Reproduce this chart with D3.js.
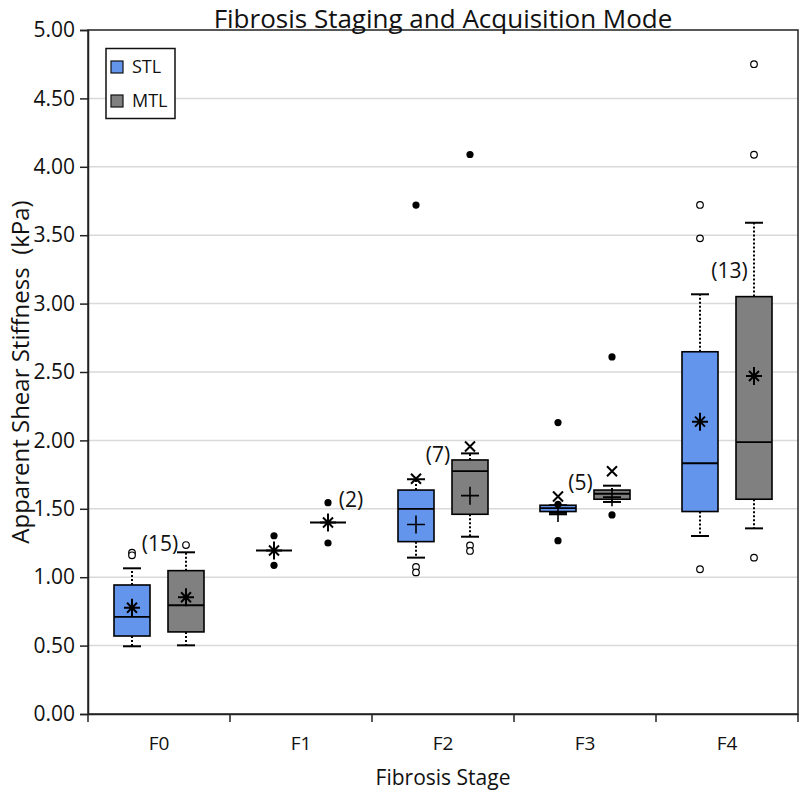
<!DOCTYPE html>
<html><head><meta charset="utf-8">
<script src="https://cdn.jsdelivr.net/npm/d3@7"></script>
<style>body{margin:0;background:#fff}svg{display:block}text{font-family:"Open Sans",sans-serif;fill:#111}</style>
</head><body>
<svg id="c" width="800" height="791"></svg>
<script>
// ---- data ----
const stages = ["F0","F1","F2","F3","F4"];
const modes = ["STL","MTL"];
const colors = ["#6495ED","#808080"];
const yTicks = [0,0.5,1,1.5,2,2.5,3,3.5,4,4.5,5];
// values indexed [stage][mode]
const q1     = [[0.57,0.60],[null,null],[1.26,1.46],[1.48,1.57],[1.48,1.57]];
const median = [[0.71,0.795],[1.195,1.40],[1.50,1.776],[1.505,1.61],[1.833,1.988]];
const q3     = [[0.943,1.048],[null,null],[1.637,1.857],[1.526,1.637],[2.648,3.051]];
const whLo   = [[0.495,0.502],[null,null],[1.143,1.296],[1.46,1.55],[1.301,1.357]];
const whHi   = [[1.065,1.182],[null,null],[1.716,1.905],[1.526,1.669],[3.068,3.591]];
const means  = [[0.777,0.853],[1.195,1.40],[1.385,1.596],[1.47,1.585],[2.137,2.471]];
const meanSymbol = ["star","star","plus","plus","star"];
const openPts  = [[[1.18,1.16],[1.235]],[[],[]],[[1.075,1.035],[1.232,1.192]],[[],[]],[[3.721,3.477,1.058],[4.75,4.088,1.143]]];
const filledPts= [[[],[]],[[1.303,1.087],[1.545,1.25]],[[3.72],[4.09]],[[2.13,1.267,1.533],[2.61,1.455]],[[],[]]];
const crossPts = [[[],[]],[[],[]],[[1.72],[1.955]],[[1.59],[1.775]],[[],[]]];
const nLabels  = ["(15)","(2)","(7)","(5)","(13)"];
const nLabelY  = [1.243,1.564,1.893,1.689,3.24];

// ---- layout ----
const svg = d3.select("#c");
const L=88,R=798,T=30,B=714;
const x = d3.scaleBand().domain(stages).range([L,R]);
const xm = d3.scalePoint().domain(modes).range([x.bandwidth()/2-27, x.bandwidth()/2+27]);
const y = d3.scaleLinear().domain([0,5]).range([B,T]);
const BW=36, CAP=18;
const labelDx = [1,50,-5,-4.5,2.5];

// grid
svg.append("g").selectAll("line").data(yTicks.filter(v=>v>0&&v<5)).join("line")
  .attr("x1",L).attr("x2",R).attr("y1",d=>y(d)).attr("y2",d=>y(d))
  .attr("stroke","#d9d9d9").attr("stroke-width",1.5);

// frame
svg.append("rect").attr("x",L).attr("y",T).attr("width",R-L).attr("height",B-T)
  .attr("fill","none").attr("stroke","#222").attr("stroke-width",1.5);

// y axis
const ya = svg.append("g").attr("transform",`translate(${L},0)`)
  .call(d3.axisLeft(y).tickValues(yTicks).tickFormat(d3.format(".2f")).tickSize(8).tickPadding(5));
ya.select(".domain").attr("stroke","#222").attr("stroke-width",1.5);
ya.selectAll(".tick line").attr("stroke","#222").attr("stroke-width",1.5);
ya.selectAll("text").style("font-size","21px").attr("fill","#111");

// x axis
const xa = svg.append("g").attr("transform",`translate(0,${B})`)
  .call(d3.axisBottom(x).tickSize(0).tickPadding(23));
xa.select(".domain").attr("stroke","#222").attr("stroke-width",1.5);
xa.selectAll("text").style("font-size","19px").attr("fill","#111");
svg.append("g").selectAll("line").data(stages.map(s=>x(s)).concat([R])).join("line")
  .attr("x1",d=>d).attr("x2",d=>d).attr("y1",B).attr("y2",B+8)
  .attr("stroke","#222").attr("stroke-width",1.5);

// boxes
const g = svg.append("g");
stages.forEach((s,i)=>{
  modes.forEach((m,j)=>{
    const cx = x(s)+xm(m);
    if(q1[i][j]!==null){
      g.append("line").attr("x1",cx).attr("x2",cx).attr("y1",y(q3[i][j])).attr("y2",y(whHi[i][j]))
        .attr("stroke","#000").attr("stroke-width",2).attr("stroke-dasharray","2,2");
      g.append("line").attr("x1",cx).attr("x2",cx).attr("y1",y(q1[i][j])).attr("y2",y(whLo[i][j]))
        .attr("stroke","#000").attr("stroke-width",2).attr("stroke-dasharray","2,2");
      [whHi[i][j],whLo[i][j]].forEach(v=>{
        g.append("line").attr("x1",cx-CAP/2).attr("x2",cx+CAP/2).attr("y1",y(v)).attr("y2",y(v))
          .attr("stroke","#000").attr("stroke-width",2);
      });
      g.append("rect").attr("x",cx-BW/2).attr("width",BW)
        .attr("y",y(q3[i][j])).attr("height",y(q1[i][j])-y(q3[i][j]))
        .attr("fill",colors[j]).attr("stroke","#000").attr("stroke-width",1.6);
    }
    g.append("line").attr("x1",cx-BW/2).attr("x2",cx+BW/2).attr("y1",y(median[i][j])).attr("y2",y(median[i][j]))
      .attr("stroke","#000").attr("stroke-width",1.8);
    const my = y(means[i][j]);
    if(meanSymbol[i]==="star"){
      const p = d3.path();
      p.moveTo(cx-8,my);p.lineTo(cx+8,my);
      p.moveTo(cx,my-9);p.lineTo(cx,my+9);
      p.moveTo(cx-5,my-5);p.lineTo(cx+5,my+5);
      p.moveTo(cx-5,my+5);p.lineTo(cx+5,my-5);
      g.append("path").attr("d",p.toString()).attr("stroke","#000").attr("stroke-width",2);
      g.append("circle").attr("cx",cx).attr("cy",my).attr("r",2.2).attr("fill","#000");
    } else {
      const p = d3.path();
      p.moveTo(cx-9,my);p.lineTo(cx+9,my);
      p.moveTo(cx,my-9);p.lineTo(cx,my+9);
      g.append("path").attr("d",p.toString()).attr("stroke","#000").attr("stroke-width",1.6);
    }
    openPts[i][j].forEach(v=>g.append("circle").attr("cx",cx).attr("cy",y(v)).attr("r",3.3)
      .attr("fill","#fff").attr("stroke","#000").attr("stroke-width",1.2));
    filledPts[i][j].forEach(v=>g.append("circle").attr("cx",cx).attr("cy",y(v)).attr("r",3.6).attr("fill","#000"));
    crossPts[i][j].forEach(v=>{
      const cy=y(v);
      g.append("path").attr("d",`M${cx-5},${cy-5}L${cx+5},${cy+5}M${cx-5},${cy+5}L${cx+5},${cy-5}`)
        .attr("stroke","#000").attr("stroke-width",2);
    });
  });
  g.append("text").attr("x",x(s)+x.bandwidth()/2+labelDx[i]).attr("y",y(nLabelY[i]))
    .attr("text-anchor","middle").attr("dy","0.35em").style("font-size","21px").text(nLabels[i]);
});

// legend
const lg = svg.append("g");
lg.append("rect").attr("x",106).attr("y",48.5).attr("width",69).attr("height",70)
  .attr("fill","#fff").attr("stroke","#111").attr("stroke-width",1.5);
modes.forEach((m,j)=>{
  const yy = [67,101][j];
  lg.append("rect").attr("x",111).attr("y",yy-6).attr("width",12).attr("height",12)
    .attr("fill",colors[j]).attr("stroke","#111").attr("stroke-width",1.2);
  lg.append("text").attr("x",132).attr("y",yy).attr("dy","0.36em").style("font-size","18px").text(m);
});

// titles
svg.append("text").attr("x",(L+R)/2).attr("y",28).attr("text-anchor","middle")
  .style("font-size","26px").text("Fibrosis Staging and Acquisition Mode");
svg.append("text").attr("x",(L+R)/2).attr("y",785).attr("text-anchor","middle")
  .style("font-size","21px").text("Fibrosis Stage");
svg.append("text").attr("transform",`translate(29,${(T+B)/2}) rotate(-90)`).attr("text-anchor","middle")
  .style("font-size","24px").style("white-space","pre").text("Apparent Shear Stiffness  (kPa)");
</script>
</body></html>
